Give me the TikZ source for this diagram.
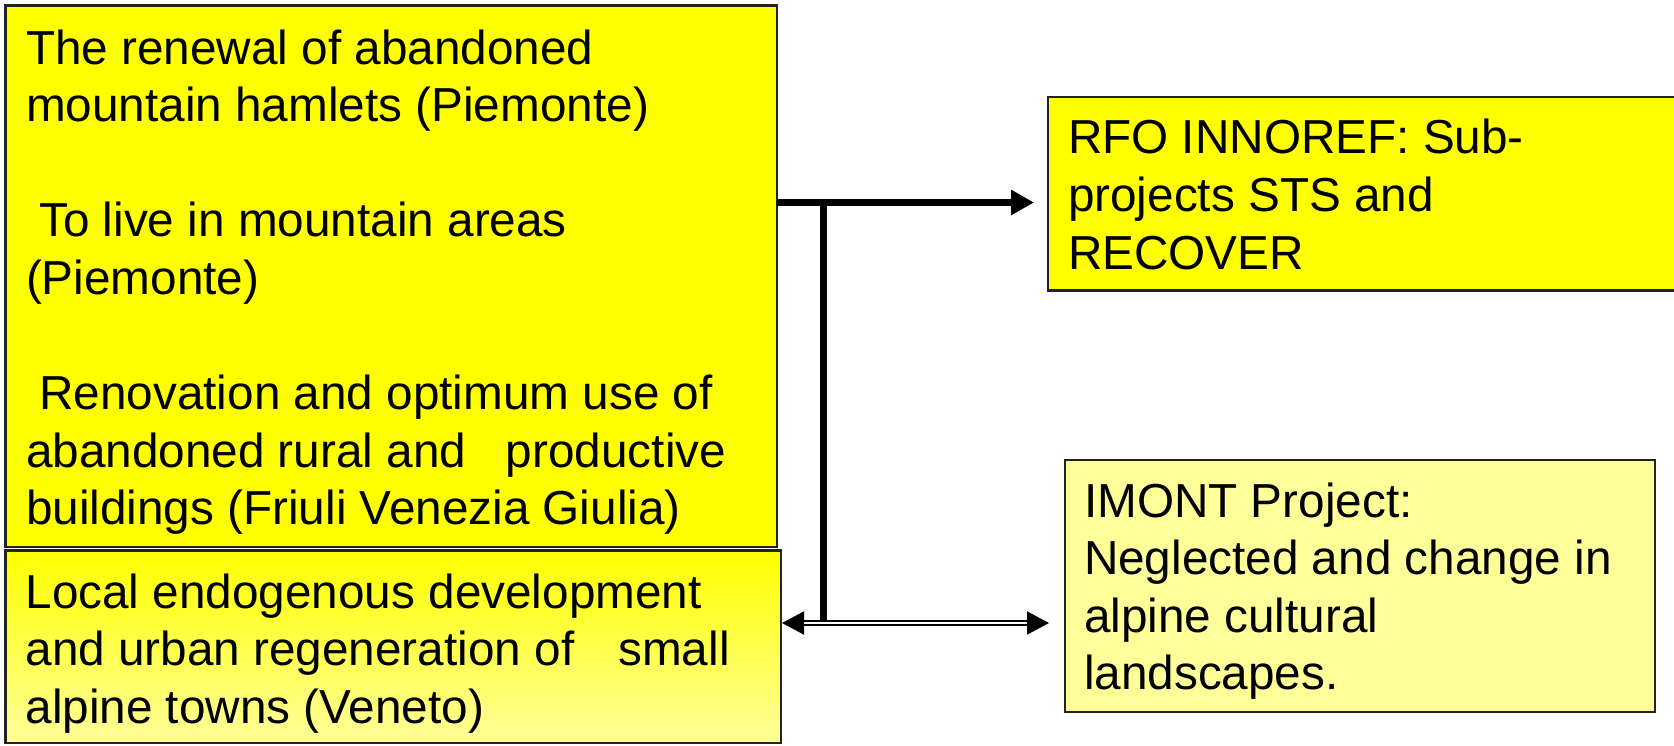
\documentclass[tikz,border=0pt]{standalone}
\usepackage{fontspec}
\setmainfont{Liberation Sans}
\usetikzlibrary{arrows.meta}
\definecolor{yel}{RGB}{255,255,0}
\definecolor{paleyel}{RGB}{255,255,153}
\definecolor{frame}{RGB}{35,35,35}
\begin{document}
\begin{tikzpicture}[x=1pt,y=-1pt,
  box/.style={draw=frame,line width=2.5pt,inner sep=0pt,outer sep=0pt,anchor=north west},
  txt/.style={inner sep=0pt,outer sep=0pt,anchor=base west,align=left,
    font=\fontsize{47.7pt}{57.6pt}\selectfont},
  bigarrow/.style={line width=7pt,-{Triangle[length=23pt,width=24pt]}},
  bigline/.style={line width=7pt},
  dblarrow/.style={line width=2pt,double=white,double distance=2.5pt,
    {Triangle[length=22pt,width=23pt]}-{Triangle[length=22pt,width=23pt]}}]
\useasboundingbox (0,0) rectangle (1674,746);

% boxes
\node[box,fill=yel,minimum width=771.5pt,minimum height=541.5pt] (A) at (5.5,5.5) {};
\node[box,top color=yel,bottom color=paleyel,minimum width=775.5pt,minimum height=192.5pt] (B) at (5.5,550.5) {};
\node[box,fill=yel,minimum width=628pt,minimum height=193.5pt] (C) at (1048,97) {};
\node[box,fill=paleyel,minimum width=590pt,minimum height=252pt] (D) at (1065,460) {};

% texts (anchored at the baseline of their last line)
\node[txt] (At) at (26,524.8) {The renewal of abandoned\\mountain hamlets (Piemonte)\\[57.6pt]\hspace*{13.3pt}To live in mountain areas\\(Piemonte)\\[57.6pt]\hspace*{13.3pt}Renovation and optimum use of\\abandoned rural and\hspace{39.8pt}productive\\buildings (Friuli Venezia Giulia)};
\node[txt] (Bt) at (25.5,723.2) {Local endogenous development\\and urban regeneration of\hspace{44pt}small\\alpine towns (Veneto)};
\node[txt] (Ct) at (1068,269.2) {RFO INNOREF: Sub-\\projects STS and\\RECOVER};
\node[txt] (Dt) at (1084,689.8) {IMONT Project:\\Neglected and change in\\alpine cultural\\landscapes.};

% connectors
\coordinate (j1) at (823.5,202.5);
\coordinate (j2) at (823.5,623);
\draw[bigarrow,shorten >=14pt] (A.east |- j1) -- (C.west |- j1);
\draw[bigline] (j1) -- (j2);
\draw[dblarrow,shorten <=1pt,shorten >=16pt] (B.east |- j2) -- (D.west |- j2);
\end{tikzpicture}
\end{document}
